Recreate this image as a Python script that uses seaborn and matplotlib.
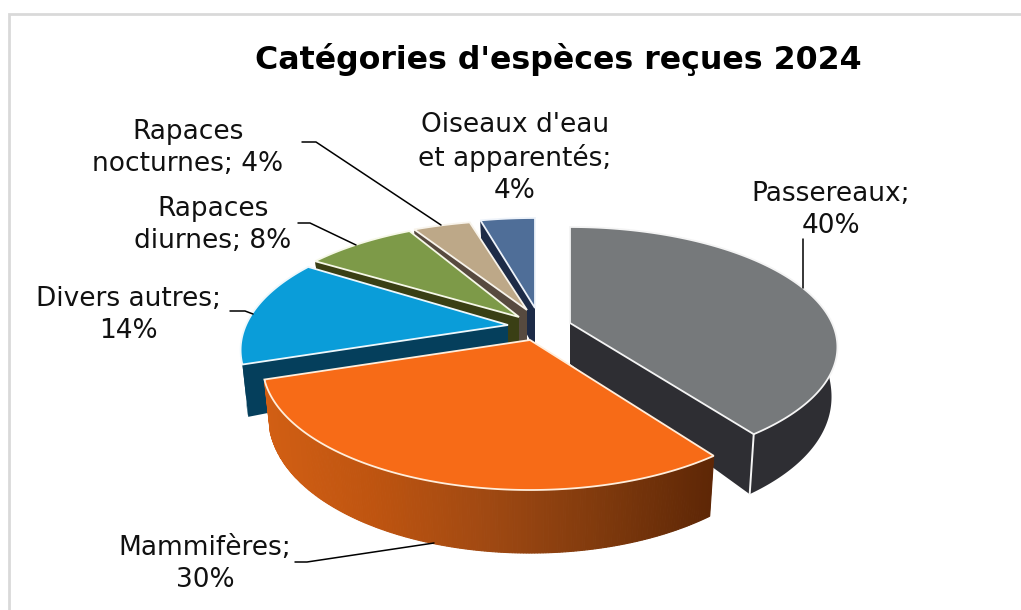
import numpy as np
import matplotlib
matplotlib.use("Agg")
import matplotlib.pyplot as plt
import seaborn as sns

# ---- data ----
categories = ["Passereaux", "Mammifères", "Divers autres", "Rapaces diurnes",
              "Rapaces nocturnes", "Oiseaux d'eau et apparentés"]
shares = [40, 30, 14, 8, 4, 4]
chart_title = "Catégories d'espèces reçues 2024"

# ---- style ----
top_colors = ["#76797B", "#F76B17", "#0A9DD9", "#7D9A48", "#BDA888", "#4F6E98"]
side_colors = ["#2E2E33", "#8A3F0E", "#053F5C", "#3A3F14", "#574A3F", "#1D2B47"]
orange_ramp = ["#D25F14", "#BE5410", "#A04912", "#803A0D", "#5E2706"]
edge_colors = ["#F4F4F4", "#FFEEDC", "#EEF8FC", "#F6F8E8", "#F8F4EC", "#EEF3FA"]
# pie projection
centre = (536, 316)
explode = [(34, 7), (-6, 24), (-28, 9), (-17, 1), (-9, -6), (-1, -8)]
y_scale = [0.96, 1.0, 1.0, 0.96, 0.90, 0.90]
x_scale = [1.0, 1.0, 1.0, 1.02, 1.05, 1.0]
RX, RY, K = 262, 120, 0.2
draw_order = [5, 4, 3, 2, 0, 1]

sns.set_theme(style="white")
plt.rcParams["font.family"] = ["DejaVu Sans"]
fig = plt.figure(figsize=(10.21, 6.10), dpi=100, facecolor="white")
ax = fig.add_axes([0, 0, 1, 1])
ax.set_xlim(0, 1021)
ax.set_ylim(610, 0)
ax.axis("off")

# chart frame
ax.plot([9, 9, 1021], [610, 14, 14], color="#D9D9D9", lw=2, solid_joinstyle="miter", zorder=1)


def project(theta, radius, ax0, ay0, xs, ys):
    X, Y = radius * np.sin(theta), -radius * np.cos(theta)
    s = 1 / (1 - K * Y)
    return ax0 + RX * xs * X * s, ay0 + RY * ys * Y * s


def depth(dy):
    dy = np.asarray(dy, dtype=float)
    return np.where(dy >= 0, 41 + 1.8 * np.sqrt(np.maximum(dy, 0)), 41 + 0.1 * dy)


def lower(x, y, ax0, ay0):
    return ax0 + 0.978 * (x - ax0), y + depth(y - ay0)


fracs = np.cumsum([0] + shares) / sum(shares) * 2 * np.pi
ramp = sns.blend_palette(orange_ramp, 256)
z = 5
for i in draw_order:
    a0, a1 = fracs[i], fracs[i + 1]
    ax0, ay0 = centre[0] + explode[i][0], centre[1] + explode[i][1]
    th = np.linspace(a0, a1, max(int(np.degrees(a1 - a0)) * 2, 12))
    x, y = project(th, 1, ax0, ay0, x_scale[i], y_scale[i])
    xb, yb = lower(x, y, ax0, ay0)
    ab = (ax0, ay0 + 41)
    # two cut faces
    for xe, ye, xbe, ybe in [(x[0], y[0], xb[0], yb[0]), (x[-1], y[-1], xb[-1], yb[-1])]:
        ax.fill([ax0, xe, xbe, ab[0]], [ay0, ye, ybe, ab[1]], color=side_colors[i], lw=0, zorder=z)
    # outer strip
    if i == 1:
        for j in range(len(th) - 1):
            t = np.clip((x[j] - 262) / (712 - 262), 0, 1)
            c = ramp[int(t * 255)]
            ax.fill([x[j], x[j + 1], xb[j + 1], xb[j]], [y[j], y[j + 1], yb[j + 1], yb[j]],
                    facecolor=c, edgecolor=c, lw=0.8, zorder=z + 0.1)
    else:
        ax.fill(np.r_[x, xb[::-1]], np.r_[y, yb[::-1]], color=side_colors[i], lw=0, zorder=z + 0.1)
    # corner highlight on the front slices
    if i == 0:
        ax.plot([x[-1], xb[-1]], [y[-1], yb[-1]], color=edge_colors[i], lw=1.4, zorder=z + 0.2)
    # top
    ax.fill(np.r_[ax0, x], np.r_[ay0, y], facecolor=top_colors[i],
            edgecolor=edge_colors[i], lw=1.3, joinstyle="miter", zorder=z + 0.3)
    z += 1

# title and labels
ax.text(558, 59, chart_title, ha="center", va="center", fontsize=22.8, fontweight="bold", color="black", zorder=30)
labels = [
    ("Passereaux;\n40%", 831, 210),
    ("Mammifères;\n30%", 205, 564),
    ("Divers autres;\n14%", 128, 315),
    ("Rapaces\ndiurnes; 8%", 213, 225),
    ("Rapaces\nnocturnes; 4%", 188, 148),
    ("Oiseaux d'eau\net apparentés;\n4%", 515, 158),
]
for txt, lx, ly in labels:
    ax.text(lx, ly, txt, ha="center", va="center", fontsize=19, color="#111111",
            linespacing=1.28, zorder=30)

leaders = [
    ([803, 803], [239, 288]),
    ([295, 307, 434], [562, 562, 543]),
    ([230, 245, 253], [311, 311, 314]),
    ([298, 310, 356], [223, 223, 245]),
    ([302, 316, 441], [142, 142, 225]),
]
for lx, ly in leaders:
    ax.plot(lx, ly, color="black", lw=1.1, zorder=30)

fig.savefig("out.png", dpi=100, facecolor="white")
